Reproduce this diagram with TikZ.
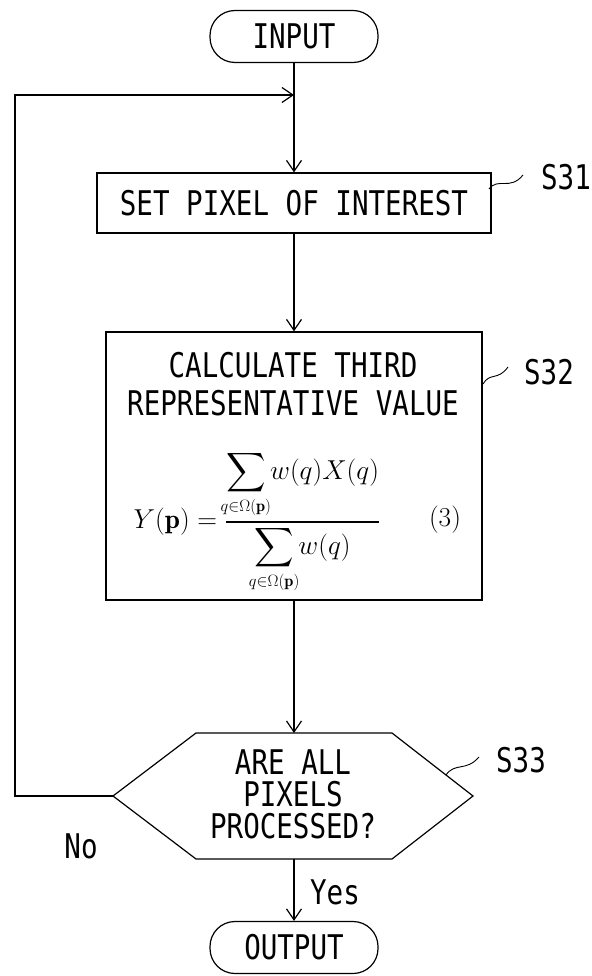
\documentclass[tikz,border=0pt]{standalone}
\usepackage{fontspec}
\usepackage{amsmath}
\usepackage{mathtools}
\usepackage{graphicx}
\newfontfamily\pf[FakeStretch=0.81]{DejaVu Sans Mono}
\usetikzlibrary{arrows.meta}
\newcommand{\subom}{\mathclap{\scalebox{0.72}{$\scriptstyle q\in\Omega(\mathbf{p})$}}}
\begin{document}
\begin{tikzpicture}[x=1pt,y=-1pt,
  line width=1.2pt,
  txt/.style={font=\pf\fontsize{34}{39}\selectfont, inner sep=0pt},
  term/.style={draw, rounded corners=25pt, minimum width=168pt, minimum height=52pt, txt},
  procbox/.style={draw, inner sep=0pt},
  arr/.style={-{Straight Barb[length=11pt,width=15pt,line width=1.2pt]}},
  squig/.style={line width=0.9pt},
  mth/.style={font=\fontsize{24.88}{30}\selectfont, inner sep=0pt},
]
\useasboundingbox (0,0) rectangle (591,976);

% terminals
\node[term] (in) at (294,36.5) {INPUT};
\node[term] (out) at (294,947.5) {OUTPUT};

% S31 box
\node[procbox, minimum width=394pt, minimum height=60pt, txt] (s31) at (294,203) {SET PIXEL OF INTEREST};

% S32 box
\node[procbox, minimum width=376pt, minimum height=268pt] (s32) at (294,466) {};
\node[txt] (t1) at (293,365) {CALCULATE THIRD};
\node[txt] (t2) at (293,403) {REPRESENTATIVE VALUE};
\node[mth] (eq) at (257,522) {\scalebox{1.1}{$Y(\mathbf{p}) = \dfrac{\displaystyle\sum_{\subom} w(q)X(q)}{\displaystyle\sum_{\subom} w(q)}$}};
\node[mth] (eqn) at (445,520) {\scalebox{1.1}{$(3)$}};

% S33 hexagon
\coordinate (hL) at (113,796);
\coordinate (hTL) at (196,733);
\coordinate (hT) at (294,733);
\coordinate (hTR) at (392,733);
\coordinate (hR) at (473,796);
\coordinate (hBR) at (392,859);
\coordinate (hB) at (294,859);
\coordinate (hBL) at (196,859);
\draw (hL) -- (hTL) -- (hTR) -- (hR) -- (hBR) -- (hBL) -- cycle;
\node[txt, align=center, font=\pf\fontsize{34}{32}\selectfont] (q) at (293,794) {ARE ALL\\PIXELS\\PROCESSED?};

% step labels
\node[txt] (l31) at (566,177) {S31};
\node[txt] (l32) at (549,372) {S32};
\node[txt] (l33) at (521,760) {S33};
\coordinate (a31) at (489,189);
\coordinate (b31) at (523,175);
\coordinate (a32) at (483,384);
\coordinate (b32) at (508,367);
\coordinate (a33) at (446,775);
\coordinate (b33) at (479,757);
\draw[squig] (a31) .. controls (498,177) and (510,191) .. (b31);
\draw[squig] (a32) .. controls (490,372) and (498,381) .. (b32);
\draw[squig] (a33) .. controls (455,762) and (466,772) .. (b33);

% connectors
\coordinate (j) at (294,95);
\coordinate (c1) at (15,796);
\coordinate (c2) at (15,95);
\draw[arr] (in.south) -- (s31.north);
\draw[arr] (hL) -- (c1) -- (c2) -- (j);
\draw[arr] (s31.south) -- (s32.north);
\draw[arr] (s32.south) -- (hT);
\draw[arr] (hB) -- (out.north);

\node[txt] (no) at (81,846) {No};
\node[txt] (yes) at (335,892) {Yes};
\end{tikzpicture}
\end{document}
